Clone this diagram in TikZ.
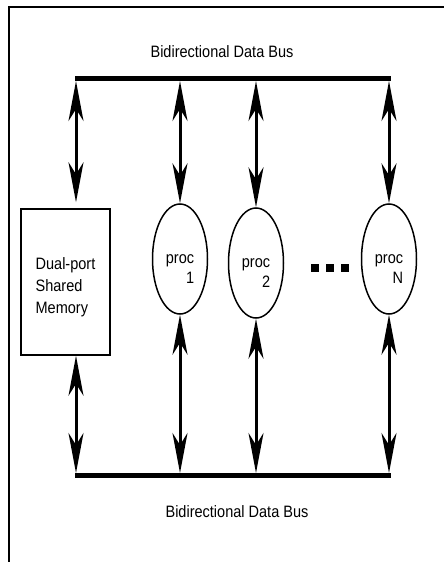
\documentclass[tikz,border=0pt]{standalone}
\usepackage{fontspec}
\setmainfont{Liberation Sans}[FakeStretch=0.88]
\usetikzlibrary{shapes.geometric,arrows.meta}

\tikzset{
	bus/.style={line width=5},
	biarrow/.style={line width=3,{Stealth[length=40pt,width=15pt,inset=12pt]}-{Stealth[length=40pt,width=15pt,inset=12pt]}},
	proc/.style={draw,ellipse,line width=1.5,minimum width=55,minimum height=110,inner sep=0,
		align=right,font=\fontsize{16.5}{20}\selectfont,text height=48,text depth=0}
}

\begin{document}
\begin{tikzpicture}[x=1pt,y=-1pt,font=\fontsize{16.5}{22}\selectfont]
				\useasboundingbox (0,0) rectangle (444,562);
				\draw[line width=2] (9,562) -- (9,7) -- (444,7);

				% the two buses
				\coordinate (tl) at (75,78.5);
				\coordinate (tr) at (391,78.5);
				\coordinate (bl) at (75,475.5);
				\coordinate (br) at (391,475.5);
				\draw[bus] (tl) -- (tr);
				\draw[bus] (bl) -- (br);
				\node[anchor=base] (toplabel) at (222,57) {Bidirectional Data Bus};
				\node[anchor=base] (botlabel) at (237,517) {Bidirectional Data Bus};

				% shared memory
				\node[draw,line width=1.5,minimum width=89,minimum height=146,align=left,
					text height=62,text depth=0] (mem) at (65.5,282) {Dual-port\\Shared\\Memory};
				\coordinate (tm) at (76,81);
				\coordinate (bm) at (76,473);
				\draw[biarrow,shorten >=6pt] (tm) -- (tm |- mem.north);
				\draw[biarrow] (tm |- mem.south) -- (bm);

				% processors
				\foreach \x/\n/\y in {180/1/259, 256/2/263, 389/N/259}{
					\node[proc] (p\n) at (\x,\y) {proc\\\n\hspace{5pt}};
					\coordinate (t\n) at (\x,81);
					\coordinate (b\n) at (\x,473);
					\draw[biarrow] (t\n) -- (p\n.north);
					\draw[biarrow] (p\n.south) -- (b\n);
				}
				\foreach \x in {315,330,345}{
					\fill (\x-4,264) rectangle ++(8,7.5);
				}
\end{tikzpicture}
\end{document}
